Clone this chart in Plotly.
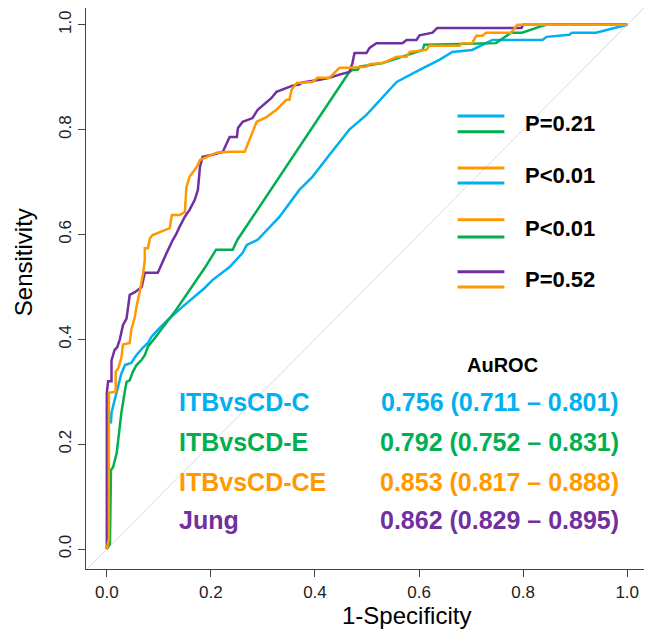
import plotly.graph_objects as go

# ROC curves (1-specificity, sensitivity)
c_fpr = [0, 0.0025, 0.0025, 0.008, 0.009, 0.015, 0.022, 0.028, 0.035, 0.047, 0.057, 0.069, 0.079, 0.086,
         0.098, 0.117, 0.143, 0.169, 0.188, 0.203, 0.236, 0.261, 0.269, 0.29, 0.332, 0.37, 0.395, 0.428,
         0.466, 0.499, 0.537, 0.543, 0.557, 0.601, 0.639, 0.664, 0.702, 0.741, 0.837, 0.845, 0.889, 0.894,
         0.94, 1.0]
c_tpr = [0, 0.02, 0.242, 0.242, 0.26, 0.284, 0.31, 0.335, 0.351, 0.355, 0.37, 0.384, 0.393, 0.405,
         0.418, 0.437, 0.46, 0.481, 0.498, 0.513, 0.538, 0.565, 0.58, 0.59, 0.634, 0.685, 0.71, 0.752,
         0.8, 0.828, 0.87, 0.876, 0.891, 0.914, 0.933, 0.948, 0.952, 0.971, 0.971, 0.977, 0.981, 0.985,
         0.985, 1.0]

e_fpr = [0, 0.006, 0.008, 0.012, 0.019, 0.022, 0.028, 0.035, 0.038, 0.044, 0.05, 0.057, 0.067, 0.073,
         0.079, 0.092, 0.111, 0.13, 0.155, 0.188, 0.21, 0.242, 0.251, 0.466, 0.472, 0.482, 0.486, 0.53,
         0.549, 0.607, 0.61, 0.748, 0.777, 0.798, 0.831, 0.845, 1.0]
e_tpr = [0, 0.01, 0.151, 0.156, 0.183, 0.208, 0.26, 0.303, 0.319, 0.322, 0.338, 0.351, 0.361, 0.37,
         0.386, 0.402, 0.427, 0.452, 0.488, 0.536, 0.571, 0.571, 0.59, 0.91, 0.914, 0.914, 0.92, 0.927,
         0.933, 0.952, 0.962, 0.965, 0.985, 0.985, 0.996, 1.0, 1.0]

ce_fpr = [0, 0.004, 0.004, 0.017, 0.017, 0.022, 0.028, 0.031, 0.044, 0.047, 0.054, 0.057, 0.063, 0.07,
          0.073, 0.073, 0.079, 0.083, 0.088, 0.121, 0.125, 0.14, 0.15, 0.153, 0.159, 0.173, 0.179, 0.192,
          0.211, 0.236, 0.265, 0.288, 0.307, 0.326, 0.345, 0.351, 0.355, 0.365, 0.395, 0.405, 0.428,
          0.434, 0.447, 0.466, 0.499, 0.505, 0.53, 0.557, 0.576, 0.582, 0.614, 0.62, 0.678, 0.683, 0.702,
          0.71, 0.722, 0.729, 0.777, 0.789, 1.0]
ce_tpr = [0, 0.02, 0.298, 0.3, 0.338, 0.345, 0.365, 0.39, 0.393, 0.418, 0.443, 0.462, 0.49, 0.527,
          0.552, 0.574, 0.574, 0.593, 0.599, 0.612, 0.637, 0.637, 0.643, 0.69, 0.71, 0.729, 0.742, 0.748,
          0.756, 0.758, 0.758, 0.815, 0.824, 0.838, 0.857, 0.857, 0.876, 0.889, 0.891, 0.899, 0.899,
          0.905, 0.918, 0.918, 0.92, 0.925, 0.927, 0.939, 0.939, 0.948, 0.952, 0.96, 0.96, 0.965, 0.965,
          0.979, 0.979, 0.985, 0.985, 1.0, 1.0]

jung_fpr = [0, 0, 0.0025, 0.009, 0.009, 0.015, 0.02, 0.025, 0.031, 0.038, 0.044, 0.054, 0.067, 0.073,
            0.098, 0.108, 0.115, 0.127, 0.133, 0.14, 0.15, 0.159, 0.169, 0.175, 0.179, 0.184, 0.203,
            0.223, 0.23, 0.236, 0.25, 0.252, 0.261, 0.28, 0.29, 0.3, 0.316, 0.326, 0.345, 0.357, 0.37,
            0.376, 0.409, 0.428, 0.447, 0.466, 0.472, 0.476, 0.499, 0.505, 0.518, 0.568, 0.576, 0.595,
            0.601, 0.626, 0.635, 0.797, 0.8, 1.0]
jung_tpr = [0, 0.298, 0.32, 0.32, 0.36, 0.38, 0.385, 0.4, 0.427, 0.44, 0.485, 0.49, 0.5, 0.527,
            0.527, 0.55, 0.565, 0.59, 0.6, 0.615, 0.634, 0.647, 0.666, 0.685, 0.729, 0.748, 0.752,
            0.758, 0.775, 0.786, 0.786, 0.803, 0.815, 0.822, 0.838, 0.847, 0.86, 0.872, 0.88, 0.884, 0.886,
            0.89, 0.895, 0.899, 0.905, 0.91, 0.927, 0.946, 0.946, 0.956, 0.965, 0.965, 0.971, 0.971,
            0.98, 0.985, 0.994, 0.994, 1.0, 1.0]

models = ["ITBvsCD-C", "ITBvsCD-E", "ITBvsCD-CE", "Jung"]
auroc = ["0.756 (0.711 – 0.801)", "0.792 (0.752 – 0.831)", "0.853 (0.817 – 0.888)", "0.862 (0.829 – 0.895)"]
colors = ["#00B0F0", "#00B050", "#FF9900", "#7030A0"]

# pairwise comparisons: (model a, model b, p-value label)
pairs = [(0, 1, "P=0.21"), (2, 0, "P<0.01"), (2, 1, "P<0.01"), (3, 2, "P=0.52")]

FONT = "Liberation Sans, Arial, sans-serif"

fig = go.Figure()

# chance line
fig.add_shape(type="line", x0=-0.04, y0=-0.04, x1=1.04, y1=1.04,
              line=dict(color="#DADADA", width=1), layer="below")

curves = [(c_fpr, c_tpr), (e_fpr, e_tpr), (jung_fpr, jung_tpr), (ce_fpr, ce_tpr)]
order = [0, 1, 3, 2]
for (fx, ty), i in zip(curves, order):
    fig.add_trace(go.Scatter(x=fx, y=ty, mode="lines", line=dict(color=colors[i], width=2.5),
                             name=models[i], showlegend=False))

# comparison key, pairs of short lines with the p value
seg_x = [0.674, 0.764]
pair_y = [(0.826, 0.796), (0.727, 0.698), (0.628, 0.595), (0.529, 0.5)]
for (a, b, p), (ya, yb) in zip(pairs, pair_y):
    for idx, yy in ((a, ya), (b, yb)):
        fig.add_trace(go.Scatter(x=seg_x, y=[yy, yy], mode="lines",
                                 line=dict(color=colors[idx], width=3), showlegend=False))
    fig.add_annotation(x=0.8, y=(ya + yb) / 2, text="<b>%s</b>" % p, showarrow=False,
                       xanchor="left", yanchor="middle", font=dict(family=FONT, size=22, color="black"))

fig.add_annotation(x=0.76, y=0.351, text="<b>AuROC</b>", showarrow=False,
                   xanchor="center", yanchor="middle", font=dict(family=FONT, size=20, color="black"))
name_y = [0.2805, 0.204, 0.128, 0.055]
for i, m in enumerate(models):
    fig.add_annotation(x=0.134, y=name_y[i], text="<b>%s</b>" % m, showarrow=False,
                       xanchor="left", yanchor="middle", font=dict(family=FONT, size=25, color=colors[i]))
    fig.add_annotation(x=0.988, y=name_y[i], text="<b>%s</b>" % auroc[i], showarrow=False,
                       xanchor="right", yanchor="middle", font=dict(family=FONT, size=25, color=colors[i]))

# axis titles
fig.add_annotation(xref="paper", yref="paper", x=0.571, y=-0.082, text="1-Specificity", showarrow=False,
                   xanchor="center", yanchor="middle", font=dict(family=FONT, size=24, color="black"))
fig.add_annotation(xref="paper", yref="paper", x=-0.112, y=0.547, text="Sensitivity", showarrow=False,
                   xanchor="center", yanchor="middle", textangle=-90,
                   font=dict(family=FONT, size=24, color="black"))

axis = dict(tickvals=[0, 0.2, 0.4, 0.6, 0.8, 1.0], tickformat=".1f", automargin=False,
            showgrid=False, zeroline=False, showline=True, mirror=True, linecolor="#444", linewidth=1.3,
            ticks="outside", ticklen=7, tickwidth=1.2, tickcolor="#444",
            tickfont=dict(family=FONT, size=17, color="#222"))

# the page body adds an 8px offset, so the figure is sized to the visible area
fig.update_layout(
    width=644, height=625,
    margin=dict(l=78, r=4, t=0, b=64),
    plot_bgcolor="white", paper_bgcolor="white",
    xaxis=dict(axis, range=[-0.04, 1.04]),
    yaxis=dict(axis, range=[-0.038, 1.032], tickangle=-90),
    showlegend=False,
)

fig.write_html("out.html")
